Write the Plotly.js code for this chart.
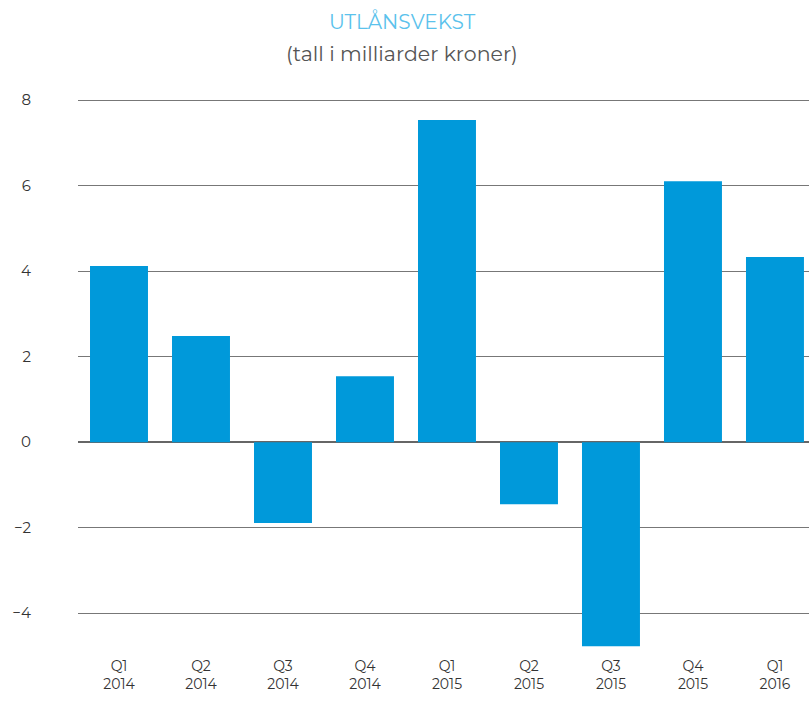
<!DOCTYPE html>
<html>
<head>
<meta charset="utf-8">
<script src="https://cdn.plot.ly/plotly-3.0.1.min.js"></script>
<style>html,body{margin:0;padding:0;background:#fff;}#chart{width:809px;height:706px;}</style>
</head>
<body>
<div id="chart"></div>
<script>
const quarters = ["Q1<br>2014","Q2<br>2014","Q3<br>2014","Q4<br>2014","Q1<br>2015","Q2<br>2015","Q3<br>2015","Q4<br>2015","Q1<br>2016"];
const growth = [4.12, 2.48, -1.89, 1.54, 7.53, -1.45, -4.77, 6.1, 4.33];
const yTicks = [-4, -2, 0, 2, 4, 6, 8];

const font = "Montserrat, 'Open Sans', 'DejaVu Sans', sans-serif";
Plotly.newPlot('chart', [{
  type: 'bar',
  x: quarters,
  y: growth,
  marker: {color: '#0099DA'},
  hoverinfo: 'none'
}], {
  width: 809, height: 706,
  margin: {l: 78, r: 0, t: 98, b: 50},
  paper_bgcolor: '#fff', plot_bgcolor: '#fff',
  bargap: 0.293,
  showlegend: false,
  font: {family: font, color: '#333', size: 14},
  title: {text: 'UTLÅNSVEKST', font: {size: 20, color: '#5BC2EC', family: font}, x: 0.497, xanchor: 'center', y: 0.969, yanchor: 'middle', yref: 'container'},
  annotations: [{
    text: '(tall i milliarder kroner)', xref: 'paper', yref: 'paper', x: 0.443, xanchor: 'center',
    showarrow: false, font: {size: 20.5, color: '#555', family: font}, y: 1, yanchor: 'middle', yshift: 45
  }],
  xaxis: {
    type: 'category', range: [-0.5, 8.415], showgrid: false, zeroline: false, showline: false,
    ticks: '', tickfont: {size: 14, color: '#333'}
  },
  yaxis: {
    range: [-5, 8.047], tickvals: yTicks, showgrid: true, gridcolor: '#777', gridwidth: 1,
    zeroline: true, zerolinecolor: '#666', zerolinewidth: 1.5, showline: false, ticks: '',
    ticklabelstandoff: 46, tickfont: {size: 15, color: '#333'}
  }
}, {displayModeBar: false, staticPlot: true});
</script>
</body>
</html>
